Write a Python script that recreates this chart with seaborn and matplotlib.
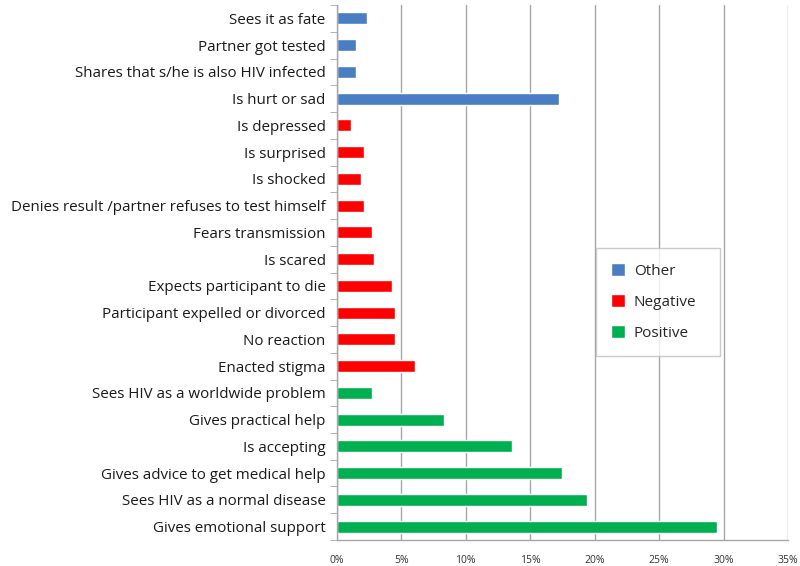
import matplotlib
matplotlib.use('Agg')
import matplotlib.pyplot as plt
import numpy as np
import pandas as pd
import seaborn as sns
from matplotlib.ticker import FuncFormatter, FixedLocator

# categories, top to bottom
reactions = [
    'Sees it as fate', 'Partner got tested', 'Shares that s/he is also HIV infected',
    'Is hurt or sad', 'Is depressed', 'Is surprised', 'Is shocked',
    'Denies result /partner refuses to test himself', 'Fears transmission',
    'Is scared', 'Expects participant to die', 'Participant expelled or divorced',
    'No reaction', 'Enacted stigma', 'Sees HIV as a worldwide problem',
    'Gives practical help', 'Is accepting', 'Gives advice to get medical help',
    'Sees HIV as a normal disease', 'Gives emotional support',
]
percent = [2.35, 1.5, 1.5, 17.2, 1.1, 2.1, 1.9, 2.1, 2.7, 2.9,
           4.3, 4.5, 4.5, 6.1, 2.7, 8.3, 13.6, 17.5, 19.4, 29.5]
groups = ['Other'] * 4 + ['Negative'] * 10 + ['Positive'] * 6
group_order = ['Other', 'Negative', 'Positive']
palette = {'Other': '#4A7EC2', 'Negative': '#FF0000', 'Positive': '#00B050'}

df = pd.DataFrame({'reaction': reactions, 'percent': percent, 'group': groups})

sns.set_style('white')
plt.rcParams['font.family'] = ['Open Sans', 'DejaVu Sans']

fig = plt.figure(figsize=(8, 5.66), dpi=100)
ax = fig.add_axes([0.421, 0.046, 0.564, 0.945])

sns.barplot(data=df, x='percent', y='reaction', hue='group', hue_order=group_order,
            palette=palette, order=reactions, dodge=False, width=0.45,
            orient='h', ax=ax, saturation=1)

ax.set_xlim(0, 35)
ax.set_ylim(len(reactions) - 0.5, -0.5)
ax.set_xticks(np.arange(0, 36, 5))
ax.xaxis.set_major_formatter(FuncFormatter(lambda v, p: f'{int(v)}%'))
ax.grid(axis='x', color='#A6A6A6', linewidth=1)
ax.set_axisbelow(True)
ax.set_xlabel('')
ax.set_ylabel('')

for s in ['top', 'right']:
    ax.spines[s].set_visible(False)
for s in ['left', 'bottom']:
    ax.spines[s].set_color('#A6A6A6')
    ax.spines[s].set_linewidth(1)

ax.tick_params(axis='x', length=5, color='#A6A6A6', labelsize=7.5, pad=6, labelcolor='#333333')
ax.tick_params(axis='y', which='major', length=0, labelsize=10.9, pad=8, labelcolor='#1a1a1a')
ax.yaxis.set_minor_locator(FixedLocator(np.arange(-0.5, len(reactions), 1)))
ax.tick_params(axis='y', which='minor', length=5, color='#A6A6A6', left=True)

# legend box stretched to the reference width
leg = ax.legend(loc='upper left', bbox_to_anchor=(0.574, 0.346, 0.275, 0.2),
                mode='expand', frameon=True,
                fancybox=False, edgecolor='#BFBFBF', fontsize=11,
                handlelength=0.9, handleheight=0.9, labelspacing=1.0,
                borderpad=1.0, handletextpad=0.6, borderaxespad=0)
leg.get_frame().set_linewidth(1)

fig.savefig('out.png', dpi=100)
